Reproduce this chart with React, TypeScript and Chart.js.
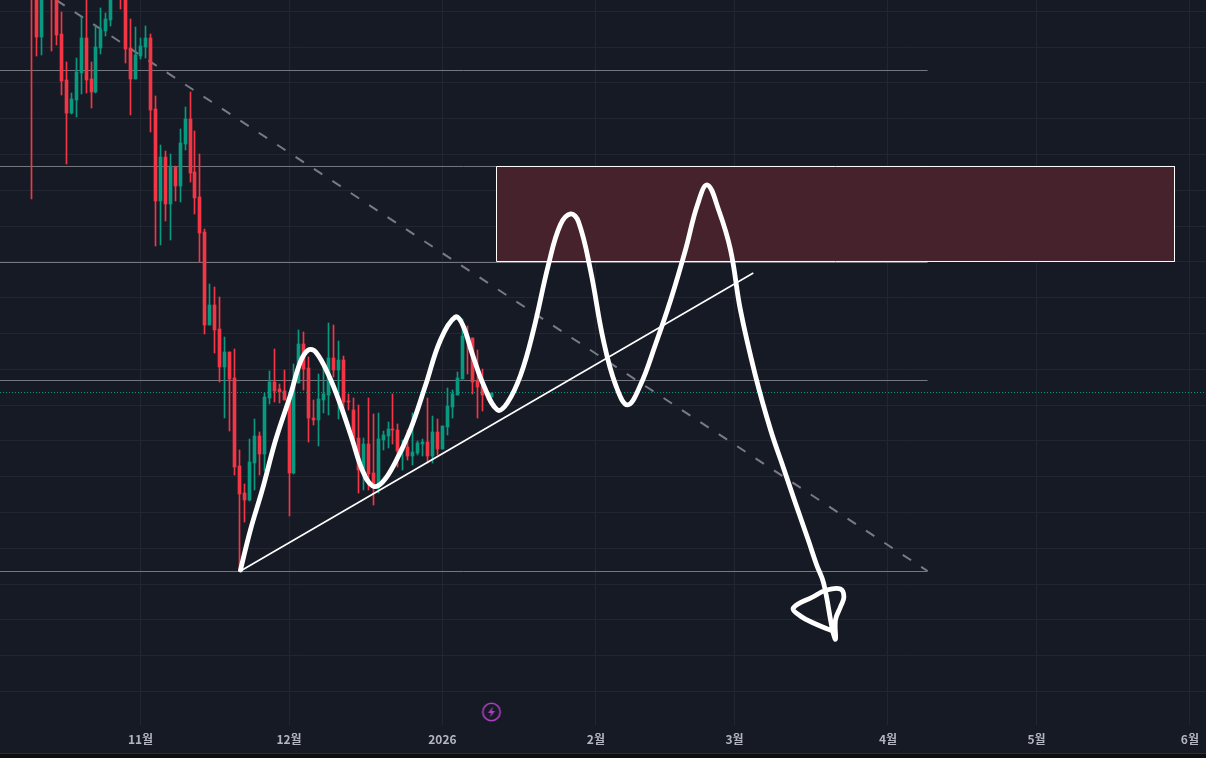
import { useEffect, useRef } from "react"
import { Chart, registerables } from "chart.js"

Chart.register(...registerables)

const bgColor = "#161a25"
const gridColor = "#222631"
const upColor = "#089981"
const downColor = "#f23645"
const levelColor = "#75777e"

// x is days since 1 Nov 2025, y is price
const monthDays = [0, 30, 61, 92, 120, 151, 181, 212]
const monthLabels = ["11월", "12월", "2026", "2월", "3월", "4월", "5월", "6월"]
const gridPrices = [
  74000, 76000, 78000, 80000, 82000, 84000, 86000, 88000, 90000, 92000,
  94000, 96000, 98000, 100000, 102000, 104000, 106000, 108000, 110000, 112000,
]

const candleDays = [
  -22, -21, -20, -19, -18, -17, -16, -15, -14, -13,
  -12, -11, -10, -9, -8, -7, -6, -5, -4, -3,
  -2, -1, 0, 1, 2, 3, 4, 5, 6, 7,
  8, 9, 10, 11, 12, 13, 14, 15, 16, 17,
  18, 19, 20, 21, 22, 23, 24, 25, 26, 27,
  28, 29, 30, 31, 32, 33, 34, 35, 36, 37,
  38, 39, 40, 41, 42, 43, 44, 45, 46, 47,
  48, 49, 50, 51, 52, 53, 54, 55, 56, 57,
  58, 59, 60, 61, 62, 63, 64, 65, 66, 67,
  68, 69, 70, 71,
]
const opens = [
  115990, 113750, 110570, 113000, 114870, 114000, 110730, 108160, 106320, 107050,
  108560, 110510, 108220, 107490, 109950, 110900, 111520, 114200, 114800, 113000,
  109950, 108220, 109510, 110010, 110510, 106540, 101400, 103860, 101240, 103300,
  102240, 104590, 105990, 103020, 101630, 99670, 94480, 95590, 94250, 92130,
  92970, 91520, 86600, 85090, 84700, 86770, 88280, 87270, 90400, 91290,
  90900, 90790, 90340, 86210, 91240, 93420, 92070, 89280, 89170, 90290,
  90570, 92630, 91960, 92520, 90230, 89730, 88160, 86380, 87830, 86210,
  85430, 88050, 88280, 88670, 88610, 87440, 87660, 87160, 87330, 87830,
  87940, 87160, 88500, 87550, 88780, 89900, 90570, 91460, 93860, 93750,
  91350, 91070, 90620, 90450,
]
const highs = [
  117100, 114310, 113750, 114800, 115300, 115000, 111960, 109170, 107440, 109390,
  111680, 113100, 109170, 111240, 112190, 111910, 113400, 114800, 115200, 113300,
  111570, 111130, 110510, 111180, 110730, 107270, 104530, 104200, 104030, 103360,
  105430, 106660, 107490, 105320, 104030, 99840, 96770, 96600, 96040, 93810,
  92970, 93140, 87490, 85590, 88110, 89230, 88500, 90680, 91910, 93140,
  91180, 91960, 90400, 92300, 94200, 94090, 92690, 90290, 91740, 92410,
  94590, 94480, 93580, 92750, 90620, 90400, 90010, 88160, 90400, 89500,
  89560, 88550, 89060, 90620, 88950, 88050, 88610, 89560, 88000, 88110,
  90400, 89390, 89230, 88830, 90960, 90850, 91850, 94810, 94420, 93750,
  93080, 92020, 90790, 90700,
]
const lows = [
  101520, 109510, 109560, 113000, 109790, 110120, 107330, 103470, 106270, 106100,
  107380, 107440, 106600, 107440, 109620, 110620, 111180, 112900, 112130, 109110,
  106210, 108220, 109340, 109390, 105260, 98890, 98950, 100290, 99230, 101400,
  101350, 104250, 102470, 100680, 98000, 93970, 94480, 92910, 91290, 89280,
  88550, 86100, 80730, 83470, 84640, 85260, 86100, 86320, 90060, 90170,
  90120, 90290, 83810, 86150, 91240, 90850, 87940, 88890, 87720, 89560,
  89450, 91570, 89230, 89450, 89730, 87660, 85090, 85260, 85260, 84420,
  85090, 87490, 87600, 87830, 86540, 86380, 86930, 86660, 87210, 87160,
  86770, 86770, 87210, 87550, 88330, 89280, 90570, 91460, 91740, 90620,
  89280, 89670, 90290, 90450,
]
const closes = [
  113750, 110570, 113190, 114000, 112910, 110680, 108110, 106320, 107100, 108610,
  110510, 108160, 107490, 110010, 110960, 111570, 113000, 113200, 113000, 109900,
  108220, 109560, 110060, 110510, 106490, 101400, 103860, 101240, 103360, 102240,
  104650, 105990, 102970, 101570, 99620, 94480, 95590, 94200, 92130, 92970,
  91460, 86540, 85030, 84700, 86820, 88280, 87270, 90450, 91290, 90790,
  90730, 90290, 86210, 91290, 93420, 92020, 89280, 89170, 90340, 90620,
  92630, 91960, 92520, 90170, 90170, 88110, 86380, 87830, 86150, 85430,
  88110, 88330, 88670, 88610, 87440, 87660, 87160, 87380, 87880, 87940,
  87160, 88500, 87550, 88830, 89950, 90620, 91520, 93860, 93690, 91290,
  91010, 90570, 90450, 90700,
]

const lastPrice = 90705
const levelPrices = [108695, 103332, 97968, 91375, 80704]
const levelEndDay = 159

const zoneDays = [71.92, 208.89]
const zonePrices = [103332, 98024]

const trendDays = [20.2, 123.8]
const trendPrices = [80730, 97380]
const dashedDays = [-17, 159]
const dashedPrices = [112630, 80730]

// the hand drawn projection, with its arrow head at the end
const drawnDays = [
  20.2, 22.2, 24.6, 27.3, 30.3, 32.3, 33.9, 35.4, 38.0, 40.4,
  42.8, 44.8, 46.9, 48.9, 51.5, 54.5, 57.6, 60.6, 63.6, 65.1,
  67.1, 69.3, 72.1, 74.1, 76.8, 79.4, 82.4, 84.8, 86.9, 88.5,
  90.9, 93.5, 96.0, 98.4, 101.0, 104.0, 107.1, 110.1, 112.5, 114.5,
  116.8, 119.2, 121.2, 124.2, 127.3, 129.9, 132.3, 134.9, 136.6, 138.0,
  139.8, 140.4, 140.4, 141.4, 142.1, 141.4, 138.6, 135.8, 131.9, 133.3,
  136.4, 139.8,
]
const drawnPrices = [
  80790, 83020, 85260, 88050, 90570, 92410, 93080, 92970, 91680, 90010,
  88050, 86380, 85480, 85700, 86820, 88610, 91120, 93640, 94920, 94480,
  92800, 91120, 89730, 90120, 91680, 94200, 97830, 100060, 100680, 100230,
  97550, 93640, 91120, 90010, 91120, 93360, 95870, 98670, 101180, 102300,
  100900, 98670, 95310, 91680, 88610, 86490, 84530, 82460, 81070, 80060,
  77440, 76930, 78000, 78720, 79280, 79730, 79670, 79280, 78670, 78220,
  77770, 77380,
]

const iconDay = 70.9
const iconPrice = 72855

const dayMin = -28.384
const dayMax = 215.252
const priceMin = 72128
const priceMax = 112634

function makeBoltIcon() {
  const c = document.createElement("canvas")
  c.width = 22
  c.height = 22
  const g = c.getContext("2d")
  if (!g) return c
  g.strokeStyle = "#ab3fc0"
  g.lineWidth = 1.6
  g.beginPath()
  g.arc(11, 11, 8.7, 0, Math.PI * 2)
  g.stroke()
  g.fillStyle = "#ab3fc0"
  g.beginPath()
  g.moveTo(12.6, 5.6)
  g.lineTo(7.4, 12)
  g.lineTo(10.6, 12)
  g.lineTo(9.4, 16.4)
  g.lineTo(14.6, 10)
  g.lineTo(11.4, 10)
  g.closePath()
  g.fill()
  return c
}

// bars land on fractional pixels, snap them so bodies and wicks stay crisp
const snapBars = {
  id: "snapBars",
  afterDatasetsUpdate(chart: Chart) {
    chart.data.datasets.forEach((_, i) => {
      const meta = chart.getDatasetMeta(i)
      if (meta.type !== "bar") return
      meta.data.forEach((el: any) => {
        el.x = Math.floor(el.x) + 0.5
        el.y = Math.round(el.y)
        el.base = Math.round(el.base)
      })
    })
  },
}

export default function App() {
  const chartRef = useRef<HTMLCanvasElement>(null)

  useEffect(() => {
    document.body.style.margin = "0"
    document.body.style.background = "#0e0e0e"
    if (!chartRef.current) return

    const candleColors = candleDays.map((_, i) => (closes[i] >= opens[i] ? upColor : downColor))

    const lineBase = { type: "line", pointRadius: 0, pointHoverRadius: 0, tension: 0, fill: false }

    const chart = new Chart(chartRef.current, {
      type: "bar",
      data: {
        datasets: [
          {
            type: "scatter",
            data: [{ x: iconDay, y: iconPrice }],
            pointStyle: makeBoltIcon(),
            pointRadius: 9,
            order: 0,
          },
          {
            ...lineBase,
            data: drawnDays.map((d, i) => ({ x: d, y: drawnPrices[i] })),
            borderColor: "#ffffff",
            borderWidth: 4.8,
            tension: 0.4,
            borderCapStyle: "round",
            borderJoinStyle: "round",
            order: 1,
          },
          {
            ...lineBase,
            data: trendDays.map((d, i) => ({ x: d, y: trendPrices[i] })),
            borderColor: "#ffffff",
            borderWidth: 1.6,
            order: 2,
          },
          {
            ...lineBase,
            data: [
              { x: zoneDays[0], y: zonePrices[0] },
              { x: zoneDays[1], y: zonePrices[0] },
              { x: zoneDays[1], y: zonePrices[1] },
              { x: zoneDays[0], y: zonePrices[1] },
              { x: zoneDays[0], y: zonePrices[0] },
            ],
            borderColor: "#ffffff",
            borderWidth: 1,
            backgroundColor: "#46222d",
            fill: "shape",
            order: 5,
          },
          {
            ...lineBase,
            data: dashedDays.map((d, i) => ({ x: d, y: dashedPrices[i] })),
            borderColor: "#787b86",
            borderWidth: 2,
            borderDash: [10, 12],
            order: 7,
          },
          ...levelPrices.map((p) => ({
            ...lineBase,
            data: [
              { x: dayMin, y: p },
              { x: levelEndDay, y: p },
            ],
            borderColor: levelColor,
            borderWidth: 1,
            order: 6,
          })),
          {
            ...lineBase,
            data: [
              { x: dayMin, y: lastPrice },
              { x: dayMax, y: lastPrice },
            ],
            borderColor: upColor,
            borderWidth: 1,
            borderDash: [1, 2],
            order: 8,
          },
          {
            type: "bar",
            data: candleDays.map((d, i) => ({ x: d, y: [opens[i], closes[i]] })),
            backgroundColor: candleColors,
            barThickness: 3,
            grouped: false,
            order: 3,
          },
          {
            type: "bar",
            data: candleDays.map((d, i) => ({ x: d, y: [lows[i], highs[i]] })),
            backgroundColor: candleColors,
            barThickness: 1,
            grouped: false,
            order: 4,
          },
        ] as any,
      },
      options: {
        responsive: false,
        animation: false,
        layout: { padding: 0, autoPadding: false },
        plugins: {
          legend: { display: false },
          tooltip: { enabled: false },
        },
        scales: {
          x: {
            type: "linear",
            min: dayMin,
            max: dayMax,
            offset: false,
            afterBuildTicks: (axis: any) => {
              axis.ticks = monthDays.map((value) => ({ value }))
            },
            afterFit: (axis: any) => {
              axis.height = 28
            },
            grid: { color: gridColor, drawTicks: false, offset: false },
            border: { display: false },
            ticks: {
              autoSkip: false,
              maxRotation: 0,
              padding: 7,
              color: "#b2b5be",
              font: { family: '"Noto Sans CJK KR", "Noto Sans", sans-serif', size: 12, weight: "bold" },
              callback: (value: any) => monthLabels[monthDays.indexOf(value)],
            },
          },
          y: {
            type: "linear",
            min: priceMin,
            max: priceMax,
            afterBuildTicks: (axis: any) => {
              axis.ticks = gridPrices.map((value) => ({ value }))
            },
            afterFit: (axis: any) => {
              axis.width = 0
            },
            grid: { color: gridColor, drawTicks: false },
            border: { display: false },
            ticks: { display: false },
          },
        },
      },
      plugins: [snapBars],
    } as any)

    return () => {
      chart.destroy()
    }
  }, [])

  return (
    <div style={{ width: 1206, height: 758, background: "#0e0e0e", overflow: "hidden" }}>
      <canvas ref={chartRef} width={1206} height={753} style={{ display: "block", background: bgColor }} />
      <div style={{ height: 1, background: "#2a2e39" }} />
    </div>
  )
}
